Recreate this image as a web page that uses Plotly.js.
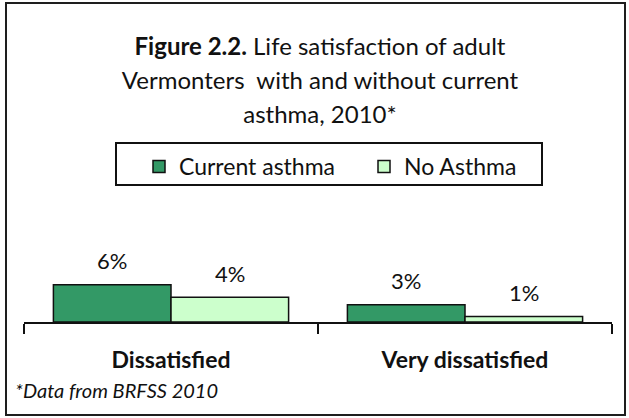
<!DOCTYPE html>
<html>
<head>
<meta charset="utf-8">
<script src="https://cdn.plot.ly/plotly-3.0.1.min.js"></script>
<style>
  html, body { margin: 0; padding: 0; background: #fff; }
  #wrap { position: relative; width: 629px; height: 418px; }
  #frame { position: absolute; left: 5px; top: 2px; width: 617px; height: 410px; border: 2px solid #1e1e1e; box-sizing: content-box; pointer-events: none; z-index: 2; }
  #chart { position: absolute; left: 0; top: 0; width: 629px; height: 418px; }
</style>
</head>
<body>
<div id="wrap">
  <div id="chart"></div>
  <div id="frame"></div>
</div>
<script>
// ---- data ----
const categories = ["Dissatisfied", "Very dissatisfied"];
const seriesNames = ["Current asthma", "No Asthma"];
const currentAsthma = [6.0, 2.8];
const noAsthma = [4.0, 0.9];
const valueLabels = [["6%", "3%"], ["4%", "1%"]];
const titleLines = ["<b>Figure 2.2.</b> Life satisfaction of adult", "Vermonters  with and without current", "asthma, 2010*"];
const footnote = "<i>*Data from BRFSS 2010</i>";

// ---- styling / layout ----
const FONT = "Lato, 'Open Sans', sans-serif";
const W = 629, H = 418;
const margin = { l: 24, r: 17, t: 229, b: 96, pad: 0 };
const plotW = W - margin.l - margin.r;
const plotH = H - margin.t - margin.b;
const bargap = 0.2;
const colors = ["#339966", "#CCFFCC"];
const seriesValues = [currentAsthma, noAsthma];

// pixel -> paper helpers (for layout placement only)
const px2x = p => (p - margin.l) / plotW;
const px2y = p => (H - margin.b - p) / plotH;

const traces = seriesValues.map((vals, i) => ({
  type: "bar",
  name: seriesNames[i],
  x: categories,
  y: vals,
  marker: { color: colors[i], line: { color: "#111", width: 1.5 } },
  hoverinfo: "skip"
}));

// value labels above bars
const catW = plotW / categories.length;
const barW = catW * (1 - bargap) / seriesValues.length;
const annotations = [];
seriesValues.forEach((vals, i) => {
  vals.forEach((v, j) => {
    annotations.push({
      x: categories[j], y: v, xref: "x", yref: "y",
      text: valueLabels[i][j],
      showarrow: false,
      xshift: (i - (seriesValues.length - 1) / 2) * barW,
      yshift: 24, yanchor: "middle", xanchor: "center",
      font: { family: FONT, size: 22, color: "#111" }
    });
  });
});
annotations.push({
  text: footnote, showarrow: false,
  xref: "paper", yref: "paper",
  x: px2x(13), xanchor: "left",
  y: px2y(390), yanchor: "middle",
  font: { family: FONT, size: 20, color: "#111" }
});

const titleText = titleLines.map(s => '<span style="font-size:24px">' + s + '</span>').join("<br>");

const layout = {
  width: W, height: H,
  margin: margin,
  paper_bgcolor: "rgba(0,0,0,0)",
  plot_bgcolor: "rgba(0,0,0,0)",
  font: { family: FONT, color: "#111" },
  title: {
    text: titleText,
    font: { family: FONT, size: 26, color: "#111" },
    x: 320 / W, xanchor: "center", xref: "container",
    y: 1 - 55 / H, yanchor: "top", yref: "container"
  },
  barmode: "group",
  bargap: bargap,
  bargroupgap: 0,
  showlegend: true,
  legend: {
    orientation: "h",
    x: px2x(139), xanchor: "left",
    y: px2y(145), yanchor: "top",
    borderwidth: 0,
    bgcolor: "rgba(0,0,0,0)",
    font: { family: FONT, size: 23, color: "#111" },
    entrywidth: 180,
    traceorder: "normal"
  },
  shapes: [{
    type: "rect", xref: "paper", yref: "paper",
    x0: px2x(116), x1: px2x(542), y0: px2y(143), y1: px2y(185),
    line: { color: "#111", width: 2 }, fillcolor: "rgba(0,0,0,0)", layer: "below"
  }],
  xaxis: {
    type: "category",
    showline: true, linecolor: "#111", linewidth: 2,
    ticks: "outside", tickson: "boundaries", ticklen: 10, tickwidth: 2, tickcolor: "#111",
    ticklabelstandoff: 16,
    tickfont: { family: FONT, size: 23, color: "#111", weight: "bold" },
    showgrid: false, zeroline: false, fixedrange: true
  },
  yaxis: {
    range: [0, 15],
    visible: false, showgrid: false, zeroline: false, fixedrange: true
  },
  annotations: annotations
};

Plotly.newPlot("chart", traces, layout, { staticPlot: true, displayModeBar: false });
</script>
</body>
</html>
